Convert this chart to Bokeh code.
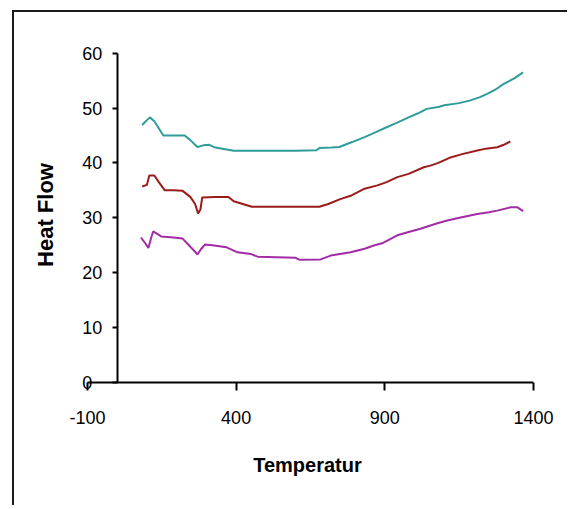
import math
from bokeh.plotting import figure
from bokeh.models import FixedTicker, Range1d, LinearAxis
from bokeh.embed import file_html
from bokeh.resources import INLINE

# ---- data ----
x_ticks = [-100, 400, 900, 1400]
y_ticks = [0, 10, 20, 30, 40, 50, 60]

temp_teal = [84, 100, 110, 125, 155, 180, 227, 245, 270, 290, 310, 330, 392, 500, 600,
             670, 680, 720, 747, 790, 832, 870, 906, 940, 980, 1010, 1041, 1080, 1100,
             1150, 1188, 1220, 1244, 1270, 1300, 1335, 1365]
heat_teal = [46.9, 47.8, 48.3, 47.6, 45.0, 45.0, 45.0, 44.2, 42.9, 43.2, 43.3, 42.8, 42.2,
             42.2, 42.2, 42.3, 42.7, 42.8, 42.9, 43.8, 44.7, 45.6, 46.5, 47.3, 48.3, 49.0,
             49.85, 50.2, 50.5, 50.9, 51.4, 52.0, 52.6, 53.3, 54.4, 55.4, 56.5]

temp_red = [84, 100, 108, 125, 140, 160, 190, 220, 246, 262, 272, 280, 286, 330, 374, 392,
            453, 550, 680, 710, 750, 785, 832, 875, 906, 942, 980, 1031, 1053, 1080, 1121,
            1160, 1211, 1240, 1278, 1300, 1322]
heat_red = [35.7, 36.0, 37.7, 37.7, 36.5, 35.0, 35.0, 34.9, 33.8, 32.5, 30.8, 31.5, 33.7,
            33.8, 33.8, 33.0, 32.0, 32.0, 32.0, 32.5, 33.4, 34.0, 35.3, 35.9, 36.5, 37.4,
            38.0, 39.2, 39.5, 40.0, 41.0, 41.6, 42.25, 42.6, 42.85, 43.3, 43.9]

temp_purple = [80, 95, 105, 115, 121, 148, 190, 220, 246, 262, 270, 282, 295, 320, 368, 405,
               449, 472, 600, 612, 684, 718, 785, 832, 863, 894, 942, 980, 1020, 1077, 1110,
               1151, 1211, 1250, 1278, 1323, 1346, 1365]
heat_purple = [26.4, 25.3, 24.5, 26.5, 27.5, 26.6, 26.4, 26.2, 24.7, 23.8, 23.3, 24.3, 25.1,
               25.0, 24.6, 23.7, 23.4, 22.9, 22.7, 22.35, 22.4, 23.1, 23.7, 24.35, 24.95,
               25.4, 26.8, 27.4, 28.0, 29.0, 29.5, 30.0, 30.7, 31.0, 31.3, 31.9, 31.9, 31.2]

x_label = "Temperatur"
y_label = "Heat Flow"

FONT = "Liberation Sans"

p = figure(width=555, height=495, output_backend="svg", toolbar_location=None,
           x_range=Range1d(-120, 1400), y_range=Range1d(-1.5, 62.5),
           y_axis_location="right",
           min_border_left=67, min_border_right=36, min_border_top=27,
           min_border_bottom=117)
p.styles = {"border-left": "2px solid #1a1a1a", "border-top": "2px solid #1a1a1a",
            "margin-left": "12px", "margin-top": "10px"}
p.background_fill_color = "white"
p.border_fill_color = "white"
p.outline_line_color = None
p.xgrid.visible = False
p.ygrid.visible = False

p.line(temp_teal, heat_teal, line_color="#2f9c9a", line_width=2)
p.line(temp_red, heat_red, line_color="#9b1b1b", line_width=2)
p.line(temp_purple, heat_purple, line_color="#a22ba6", line_width=2)

# x axis line crossing at y = 0 (ticks and labels come from the axis below)
xa = p.xaxis[0]
xa.ticker = FixedTicker(ticks=[])
xa.bounds = (-100, 1400)
xa.fixed_location = 0
xa.axis_line_color = "black"
xa.axis_line_width = 2
xa.major_tick_line_color = None
xa.major_tick_in = 0
xa.major_tick_out = 0
xa.minor_tick_line_color = None
xa.major_label_standoff = 0

# x tick marks (reaching up to y = 0), tick labels and title
xl = LinearAxis(ticker=FixedTicker(ticks=x_ticks), bounds=(-100, 1400),
                axis_line_color=None, major_tick_line_color="black",
                major_tick_line_width=2, minor_tick_line_color=None,
                major_tick_in=8, major_tick_out=0,
                major_label_standoff=20, major_label_overrides={-100: "-100"},
                major_label_text_font=FONT, major_label_text_font_size="18px",
                major_label_text_color="black",
                axis_label=x_label, axis_label_standoff=27, axis_label_text_font=FONT,
                axis_label_text_font_size="20px", axis_label_text_font_style="bold",
                axis_label_text_color="black")
p.add_layout(xl, "below")

# y axis crossing at x = 0, ticks and labels to its left
ya = p.yaxis[0]
ya.ticker = FixedTicker(ticks=y_ticks)
ya.bounds = (0, 60)
ya.fixed_location = 0
ya.axis_line_color = "black"
ya.axis_line_width = 2
ya.major_tick_line_color = "black"
ya.major_tick_line_width = 2
ya.minor_tick_line_color = None
ya.major_tick_out = 0
ya.major_tick_in = 5
ya.major_label_standoff = -35
ya.major_label_text_font = FONT
ya.major_label_text_font_size = "18px"
ya.major_label_text_color = "black"

# y axis title only (no ticks) on the left side
ytitle = LinearAxis(ticker=FixedTicker(ticks=[]), axis_label=y_label,
                    axis_line_color=None, major_tick_line_color=None,
                    minor_tick_line_color=None, major_tick_out=0, major_tick_in=0,
                    major_label_standoff=0,
                    axis_label_standoff=24, axis_label_text_font=FONT,
                    axis_label_text_font_size="22px", axis_label_text_font_style="bold",
                    axis_label_text_color="black")
p.add_layout(ytitle, "left")

open("out.html", "w").write(file_html(p, INLINE))
